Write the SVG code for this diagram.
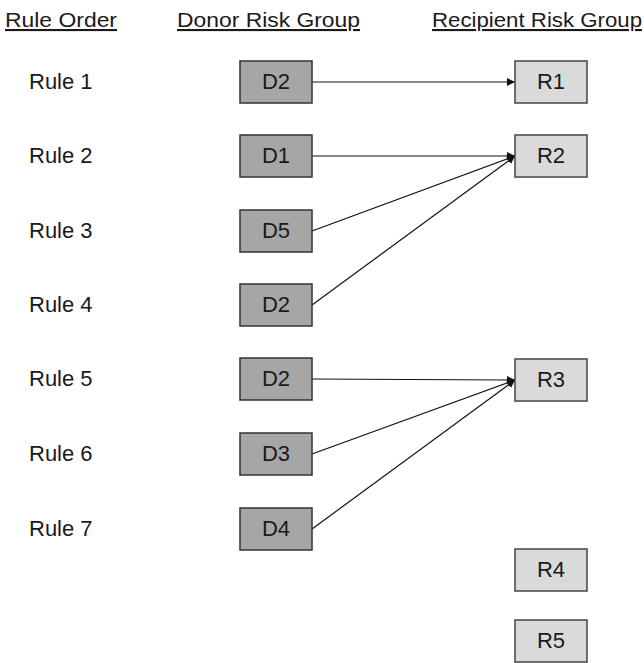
<svg xmlns="http://www.w3.org/2000/svg" width="644" height="663" viewBox="0 0 644 663">
<defs>
<style>
text{font-family:"Liberation Sans","Noto Sans",sans-serif;fill:#1a1a1a}
.h{font-size:21px;text-decoration:underline}
.r{font-size:22px}
.b{font-size:22px;text-anchor:middle}
.d{fill:#a6a6a6;stroke:#333;stroke-width:1.5}
.rc{fill:#dadada;stroke:#444;stroke-width:1.5}
.c{stroke:#111;stroke-width:1.2;fill:none;marker-end:url(#ah)}
</style>
<marker id="ah" viewBox="0 0 10 10" refX="10" refY="5" markerWidth="8" markerHeight="8" markerUnits="userSpaceOnUse" orient="auto">
<path d="M0,0 L10,5 L0,10 z" fill="#111"/>
</marker>
</defs>
<rect width="644" height="663" fill="#fff"/>
<g id="headers">
<text class="h" x="5" y="27" textLength="112" lengthAdjust="spacingAndGlyphs">Rule Order</text>
<text class="h" x="177" y="27" textLength="183" lengthAdjust="spacingAndGlyphs">Donor Risk Group</text>
<text class="h" x="432" y="27" textLength="210" lengthAdjust="spacingAndGlyphs">Recipient Risk Group</text>
</g>
<g id="rules">
<text class="r" x="29" y="89">Rule 1</text>
<text class="r" x="29" y="163">Rule 2</text>
<text class="r" x="29" y="238">Rule 3</text>
<text class="r" x="29" y="312">Rule 4</text>
<text class="r" x="29" y="386">Rule 5</text>
<text class="r" x="29" y="461">Rule 6</text>
<text class="r" x="29" y="536">Rule 7</text>
</g>
<g id="connectors">
<line class="c" x1="312" y1="82" x2="515" y2="82"/>
<line class="c" x1="312" y1="156" x2="515" y2="156"/>
<line class="c" x1="312" y1="231" x2="515" y2="156"/>
<line class="c" x1="312" y1="305" x2="515" y2="156"/>
<line class="c" x1="312" y1="379" x2="515" y2="380"/>
<line class="c" x1="312" y1="454" x2="515" y2="380"/>
<line class="c" x1="312" y1="529" x2="515" y2="380"/>
</g>
<g id="d1"><rect class="d" x="240" y="61" width="72" height="42"/><text class="b" x="276" y="89">D2</text></g>
<g id="d2"><rect class="d" x="240" y="135" width="72" height="42"/><text class="b" x="276" y="163">D1</text></g>
<g id="d3"><rect class="d" x="240" y="210" width="72" height="42"/><text class="b" x="276" y="238">D5</text></g>
<g id="d4"><rect class="d" x="240" y="284" width="72" height="42"/><text class="b" x="276" y="312">D2</text></g>
<g id="d5"><rect class="d" x="240" y="358" width="72" height="42"/><text class="b" x="276" y="386">D2</text></g>
<g id="d6"><rect class="d" x="240" y="433" width="72" height="42"/><text class="b" x="276" y="461">D3</text></g>
<g id="d7"><rect class="d" x="240" y="508" width="72" height="42"/><text class="b" x="276" y="536">D4</text></g>
<g id="r1"><rect class="rc" x="515" y="61" width="72" height="42"/><text class="b" x="551" y="89">R1</text></g>
<g id="r2"><rect class="rc" x="515" y="135" width="72" height="42"/><text class="b" x="551" y="163">R2</text></g>
<g id="r3"><rect class="rc" x="515" y="359" width="72" height="42"/><text class="b" x="551" y="387">R3</text></g>
<g id="r4"><rect class="rc" x="515" y="549" width="72" height="42"/><text class="b" x="551" y="577">R4</text></g>
<g id="r5"><rect class="rc" x="515" y="620" width="72" height="42"/><text class="b" x="551" y="648">R5</text></g>
</svg>
